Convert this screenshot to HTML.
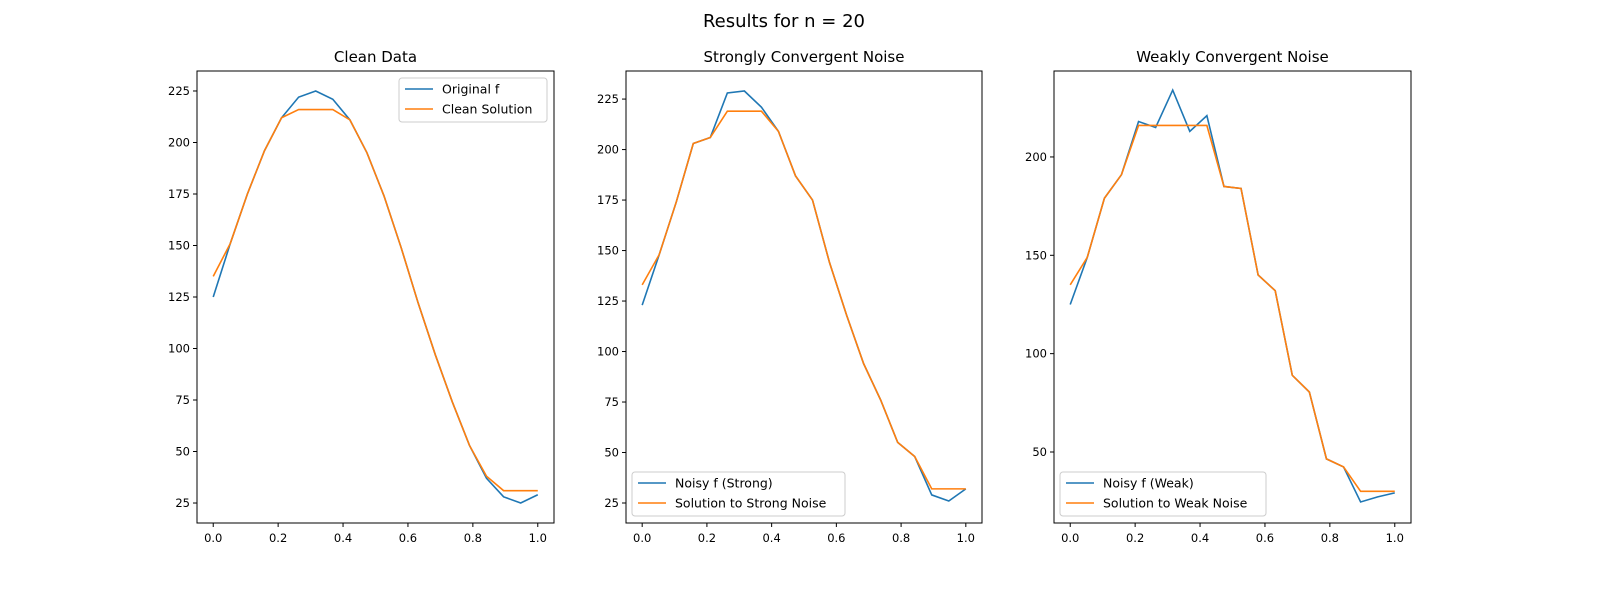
<!DOCTYPE html>
<html><head><meta charset="utf-8"><style>
body{margin:0;background:#fff;font-family:"Liberation Sans","DejaVu Sans",sans-serif;}
svg text{font-family:"DejaVu Sans","Liberation Sans",sans-serif;}
</style></head><body>
<svg id="fig" width="1600" height="600" xmlns="http://www.w3.org/2000/svg">
<rect width="1600" height="600" fill="#fff"/>
<text x="784" y="27" font-size="18" text-anchor="middle">Results for n = 20</text>
</svg>
<script>
const xTicks=[0.0,0.2,0.4,0.6,0.8,1.0];
const cleanF=[125,151,175,196,212,222,225,221,211,195,174,149,122,97,74,53,37,28,25,29];
const cleanSol=[135,151,175,196,212,216,216,216,211,195,174,149,122,97,74,53,38,31,31,31];
const strongF=[123,148,174,203,206,228,229,221,209,187,175,144,118,94,76,55,48,29,26,32];
const strongSol=[133,148,174,203,206,219,219,219,209,187,175,144,118,94,76,55,48,32,32,32];
const weakF=[125,149,179,191,218,215,234,213,221,185,184,140,132,89,80.5,46.5,42.4,24.6,27.2,29.2];
const weakSol=[135,149,179,191,216,216,216,216,216,185,184,140,132,89,80.5,46.5,42.4,30,30,30];
const yTicks1=[25,50,75,100,125,150,175,200,225];
const yTicks3=[50,100,150,200];
const svg=document.getElementById('fig');
const NS='http://www.w3.org/2000/svg';
function mk(tag,attrs,parent){const e=document.createElementNS(NS,tag);for(const k in attrs)e.setAttribute(k,attrs[k]);(parent||svg).appendChild(e);return e;}
function panel(name,x0,x1,ymin,ymax,title,s1,s2,l1,l2,yt,legPos){
 const y0=71,y1=523;
 const g=mk('g',{});
 
 
 const sx=v=>x0+(v+0.05)/1.1*(x1-x0);
 const sy=v=>y1-(v-ymin)/(ymax-ymin)*(y1-y0);
 const t=mk('text',{x:(x0+x1)/2,y:62,'font-size':15,'text-anchor':'middle'},g);t.textContent=title;
 
 
 xTicks.forEach(v=>{const x=sx(v);mk('line',{x1:x,x2:x,y1:y1,y2:y1+4,stroke:'#000'},g);
  const l=mk('text',{x:x,y:y1+19,'font-size':11.5,'text-anchor':'middle'},g);l.textContent=v.toFixed(1);
  
  });
 yt.forEach(v=>{const y=sy(v);mk('line',{x1:x0-4,x2:x0,y1:y,y2:y,stroke:'#000'},g);
  const l=mk('text',{x:x0-7,y:y+4,'font-size':11.5,'text-anchor':'end'},g);l.textContent=v;
  
  });
 [[s1,'#1f77b4',l1],[s2,'#ff7f0e',l2]].forEach(([s,c,lab])=>{
  const p=mk('polyline',{points:s.map((v,i)=>sx(i/19)+','+sy(v)).join(' '),fill:'none',stroke:c,'stroke-width':1.6},g);
  
  });
 mk('rect',{x:x0,y:y0,width:x1-x0,height:y1-y0,fill:'none',stroke:'#000','stroke-width':1},g);
 const [lx,ly,lw]=legPos;
 const lg=mk('g',{},g);
 
 
 mk('rect',{x:lx,y:ly,width:lw,height:44,rx:3,fill:'#fff','fill-opacity':0.8,stroke:'#ccc'},lg);
 [[l1,'#1f77b4'],[l2,'#ff7f0e']].forEach(([lab,c],i)=>{const yy=ly+11+i*20;
  mk('line',{x1:lx+6,x2:lx+34,y1:yy,y2:yy,stroke:c,'stroke-width':1.6},lg);
  const tx=mk('text',{x:lx+43,y:yy+4.5,'font-size':12.5},lg);tx.textContent=lab;
  
  });
}
panel('clean-panel',197,554,15.3,234.7,'Clean Data',cleanF,cleanSol,'Original f','Clean Solution',yTicks1,[399,78,148]);
panel('strong-panel',626,982,15.1,238.9,'Strongly Convergent Noise',strongF,strongSol,'Noisy f (Strong)','Solution to Strong Noise',yTicks1,[632,472,213]);
panel('weak-panel',1054,1411,13.9,243.7,'Weakly Convergent Noise',weakF,weakSol,'Noisy f (Weak)','Solution to Weak Noise',yTicks3,[1060,472,206]);
</script>
</body></html>
